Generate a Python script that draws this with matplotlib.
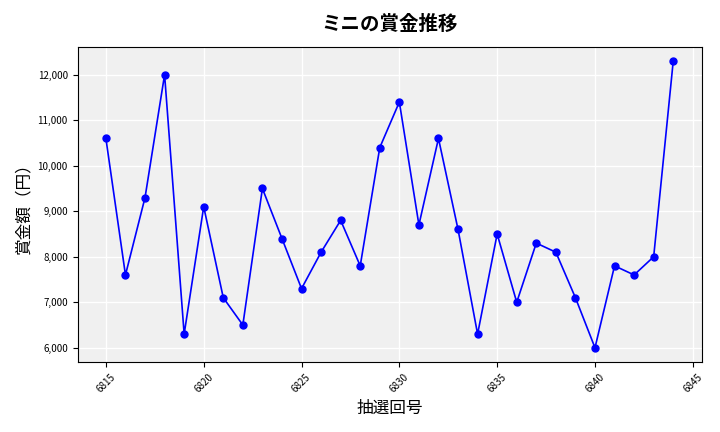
import matplotlib; matplotlib.use("Agg")
import matplotlib.pyplot as plt
from matplotlib.ticker import FuncFormatter

plt.rcParams['font.family'] = ['Noto Sans CJK JP', 'DejaVu Sans']

draws = list(range(6815, 6845))
prizes = [10600, 7600, 9300, 12000, 6300, 9100, 7100, 6500, 9500, 8400,
          7300, 8100, 8800, 7800, 10400, 11400, 8700, 10600, 8600, 6300,
          8500, 7000, 8300, 8100, 7100, 6000, 7800, 7600, 8000, 12300]

fig, ax = plt.subplots(figsize=(7.2, 4.32), dpi=100)
ax.set_facecolor("#f0f0f0")
ax.grid(True, color="white", linewidth=1)
ax.set_axisbelow(True)
ax.plot(draws, prizes, color="blue", marker="o", markersize=5, linewidth=1.2)
ax.set_title("ミニの賞金推移", fontsize=14, fontweight="bold", pad=12)
ax.set_xlabel("抽選回号", fontsize=12)
ax.set_ylabel("賞金額（円）", fontsize=12)
ax.yaxis.set_major_formatter(FuncFormatter(lambda v, p: f"{int(v):,}"))
ax.set_xticks(range(6815, 6846, 5))
ax.tick_params(axis="x", rotation=45, labelsize=7)
ax.tick_params(axis="y", labelsize=7)
fig.tight_layout()
fig.savefig("out.png", dpi=100)
